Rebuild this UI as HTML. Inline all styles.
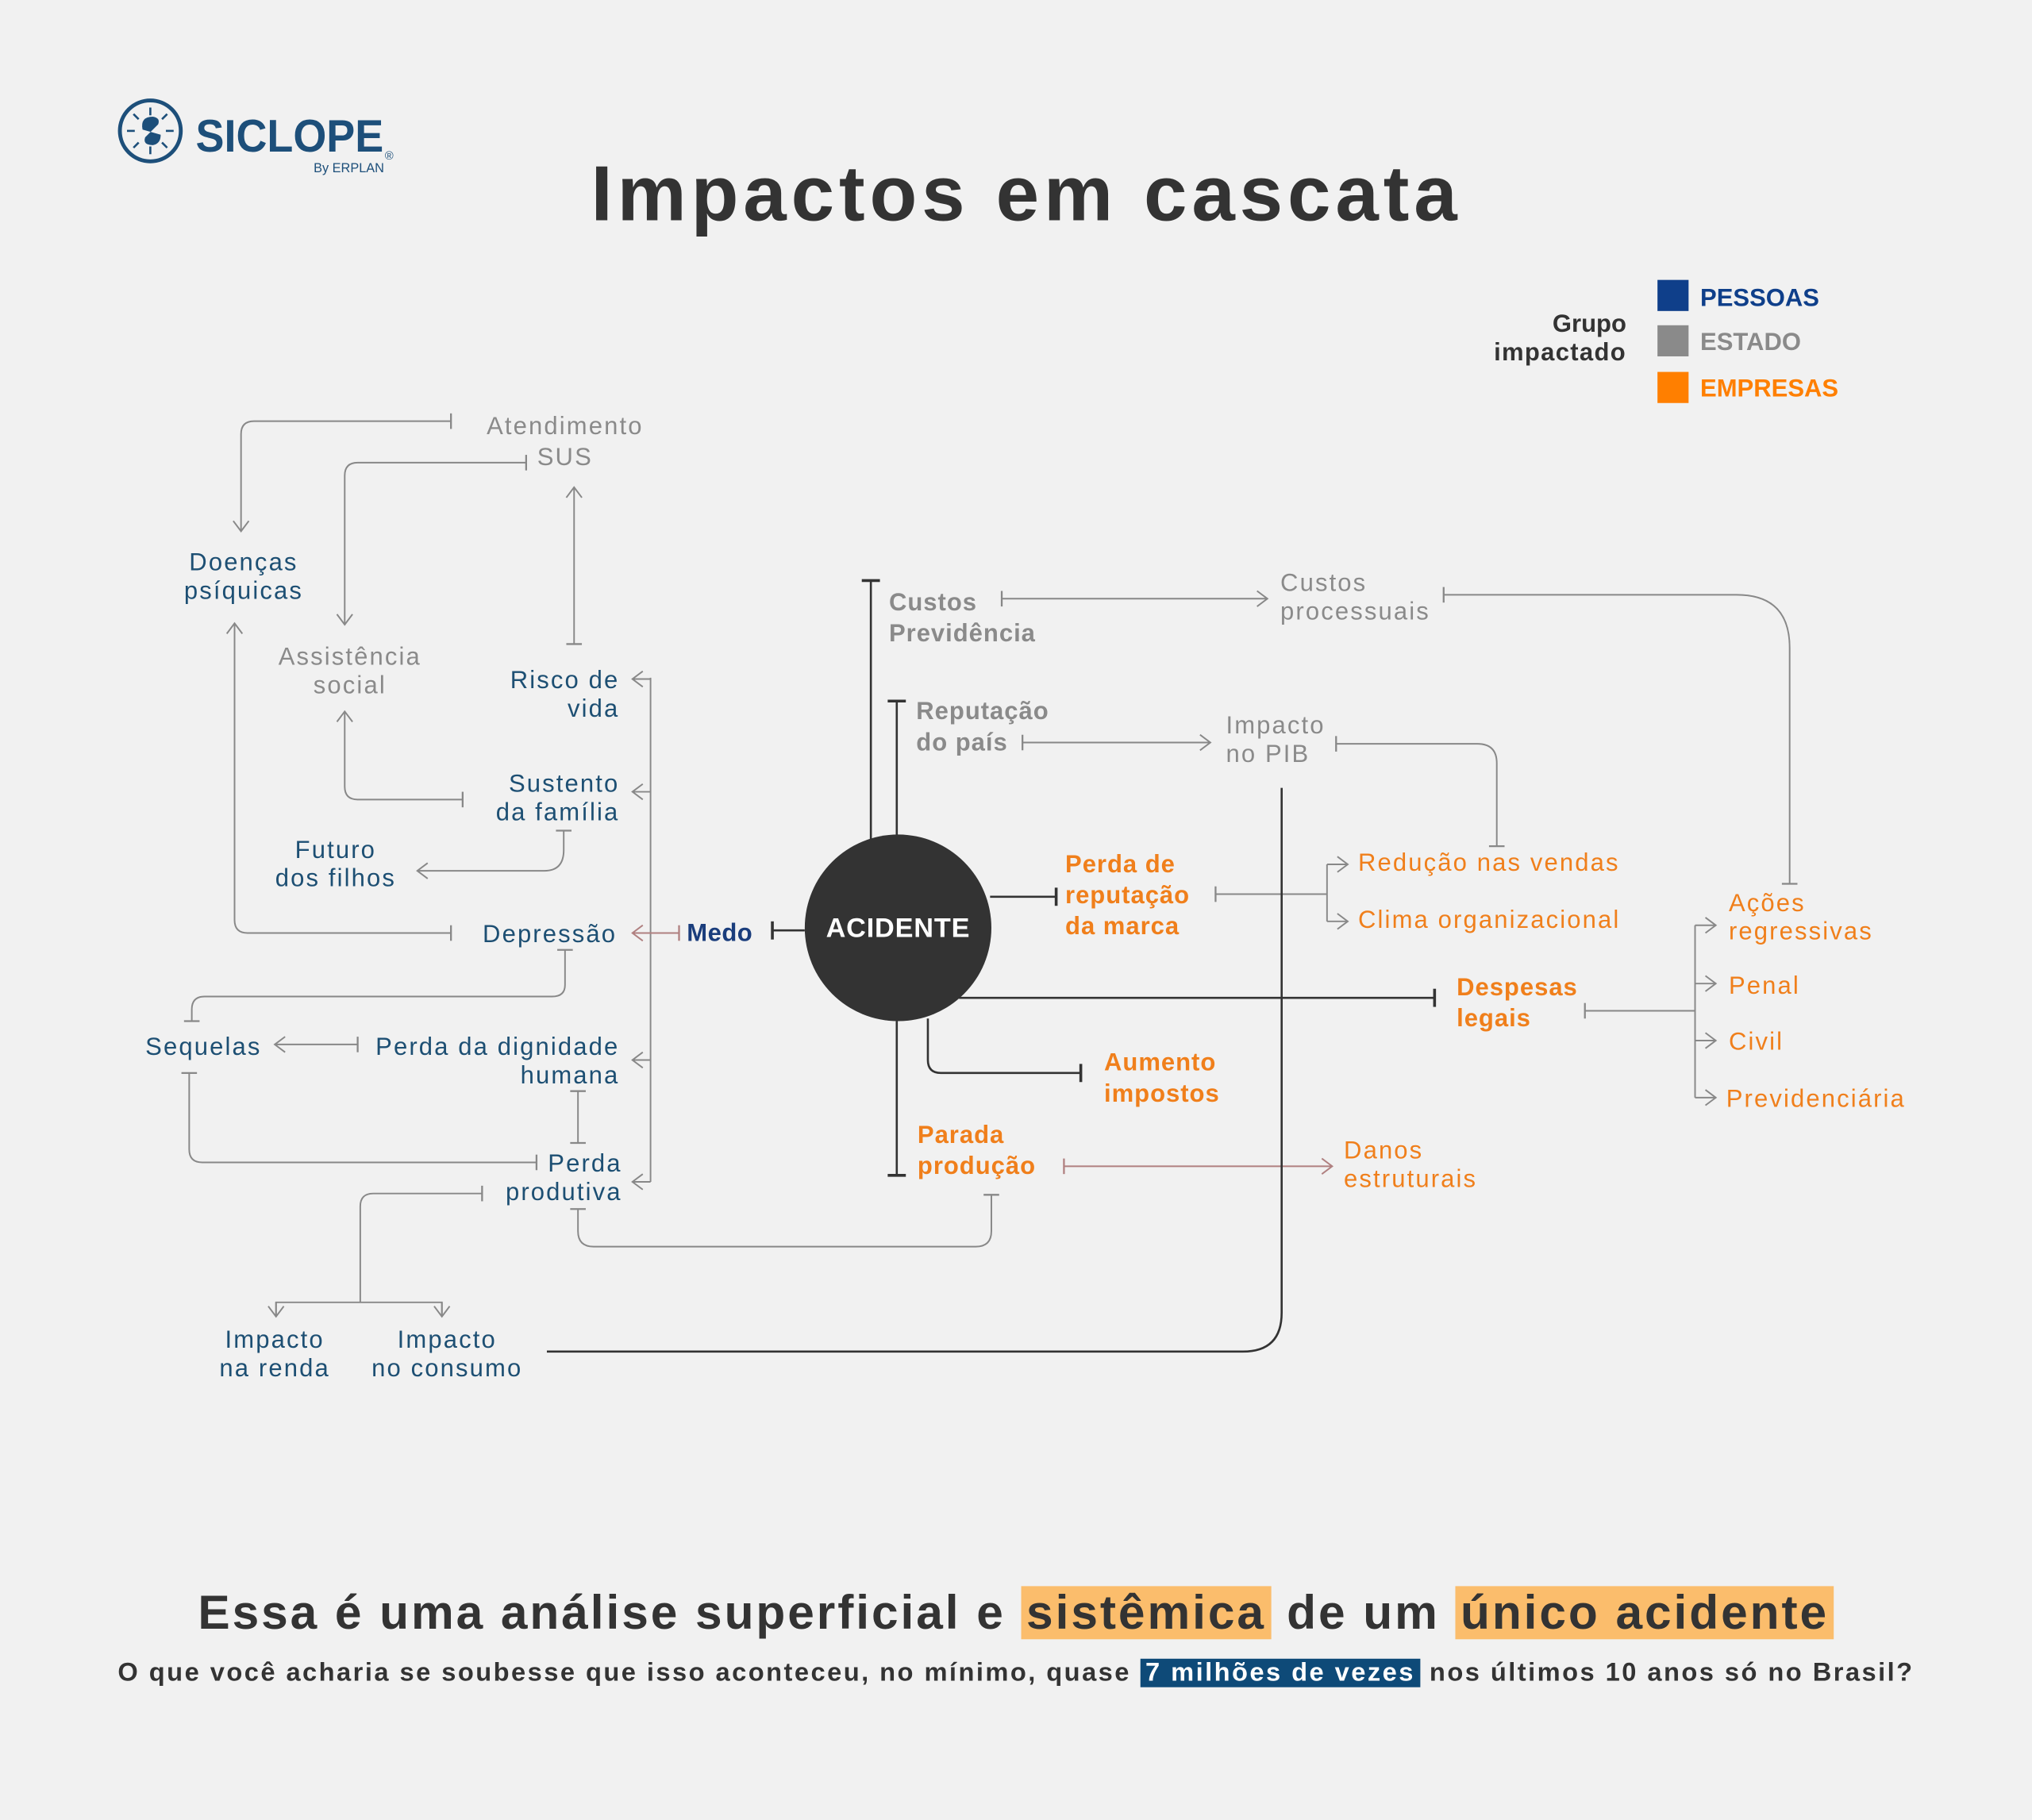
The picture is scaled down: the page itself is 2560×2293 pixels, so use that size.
<!DOCTYPE html>
<html><head><meta charset="utf-8"><style>
body{margin:0;background:#f1f1f1;}
#w{width:2560px;height:2293px;overflow:hidden;position:relative;background:#f1f1f1;}
#s{position:absolute;left:0;top:0;width:1568px;height:1404px;transform:scale(1.63265);transform-origin:0 0;font-family:"Liberation Sans",sans-serif;}
.b1{position:absolute;left:0;width:1568px;text-align:center;font-weight:bold;color:#333;white-space:nowrap;}
.hl{background:#fbbd6c;padding:0 4px;}
.hb{background:#0e4a78;color:#fff;padding:0 4px;}
</style></head><body><div id="w"><div id="s">
<svg width="1568" height="1404" viewBox="0 0 1568 1404" xmlns="http://www.w3.org/2000/svg" font-family="Liberation Sans, sans-serif">
<defs>
<marker id="ag" markerUnits="userSpaceOnUse" markerWidth="20" markerHeight="20" refX="10" refY="10" orient="auto" viewBox="0 0 20 20"><path d="M2,4 L10,10 L2,16" fill="none" stroke="#888" stroke-width="1.2"/></marker>
<marker id="tg" markerUnits="userSpaceOnUse" markerWidth="20" markerHeight="20" refX="10" refY="10" orient="auto" viewBox="0 0 20 20"><path d="M10,4 L10,16" stroke="#888" stroke-width="1.4"/></marker>
<marker id="ar" markerUnits="userSpaceOnUse" markerWidth="20" markerHeight="20" refX="10" refY="10" orient="auto" viewBox="0 0 20 20"><path d="M2,4 L10,10 L2,16" fill="none" stroke="#b08080" stroke-width="1.2"/></marker>
<marker id="tr" markerUnits="userSpaceOnUse" markerWidth="20" markerHeight="20" refX="10" refY="10" orient="auto" viewBox="0 0 20 20"><path d="M10,4 L10,16" stroke="#b08080" stroke-width="1.4"/></marker>
<marker id="td" markerUnits="userSpaceOnUse" markerWidth="20" markerHeight="20" refX="10" refY="10" orient="auto" viewBox="0 0 20 20"><path d="M10,3 L10,17" stroke="#333" stroke-width="2.2"/></marker>
</defs>
<!-- logo -->
<circle cx="116" cy="101" r="23.5" fill="none" stroke="#1d4f7a" stroke-width="3"/>
<g stroke="#1d4f7a" stroke-width="1.6">
<line x1="116" y1="83" x2="116" y2="89"/><line x1="116" y1="113" x2="116" y2="119"/>
<line x1="98" y1="101" x2="104" y2="101"/><line x1="128" y1="101" x2="134" y2="101"/>
<line x1="103" y1="88" x2="107" y2="92"/><line x1="125" y1="110" x2="129" y2="114"/>
<line x1="129" y1="88" x2="125" y2="92"/><line x1="107" y1="110" x2="103" y2="114"/></g>
<path d="M110,100 Q108,90 118,90 Q124,91 122,96 L112,106 Q110,112 118,112 Q124,111 124,104" fill="#1d4f7a"/>
<text x="151" y="117" font-size="35" fill="#1d4f7a" font-weight="bold" textLength="145" lengthAdjust="spacingAndGlyphs">SICLOPE</text>
<text x="242" y="133" font-size="10" fill="#1d4f7a">By ERPLAN</text>
<text x="297" y="123" font-size="9" fill="#1d4f7a">®</text>
<text x="792" y="170" font-size="60" font-weight="bold" fill="#333" text-anchor="middle" letter-spacing="3.6">Impactos em cascata</text>
<!-- legend -->
<g font-weight="bold" font-size="19">
<text x="1255" y="256" text-anchor="end" fill="#333">Grupo</text>
<text x="1255" y="278" text-anchor="end" fill="#333" letter-spacing="0.8">impactado</text>
<rect x="1279" y="216" width="24" height="24" fill="#0f3f8a"/>
<rect x="1279" y="251" width="24" height="24" fill="#8a8a8a"/>
<rect x="1279" y="287" width="24" height="24" fill="#ff7f00"/>
<text x="1312" y="236" fill="#0f3f8a">PESSOAS</text>
<text x="1312" y="270" fill="#8a8a8a">ESTADO</text>
<text x="1312" y="306" fill="#ff7f00">EMPRESAS</text>
</g>
<!-- gray connectors -->
<g fill="none" stroke="#888" stroke-width="1.2">
<path d="M348,325 L196,325 Q186,325 186,335 L186,410" marker-start="url(#tg)" marker-end="url(#ag)"/>
<path d="M406,357 L276,357 Q266,357 266,367 L266,482" marker-start="url(#tg)" marker-end="url(#ag)"/>
<path d="M443,497 L443,376" marker-start="url(#tg)" marker-end="url(#ag)"/>
<path d="M357,617 L276,617 Q266,617 266,607 L266,549" marker-start="url(#tg)" marker-end="url(#ag)"/>
<path d="M435,641 L435,656 Q435,672 420,672 L322,672" marker-start="url(#tg)" marker-end="url(#ag)"/>
<path d="M348,720 L191,720 Q181,720 181,710 L181,481" marker-start="url(#tg)" marker-end="url(#ag)"/>
<path d="M436,733 L436,760 Q436,769 426,769 L158,769 Q148,769 148,779 L148,788" marker-start="url(#tg)" marker-end="url(#tg)"/>
<path d="M276,806 L212,806" marker-start="url(#tg)" marker-end="url(#ag)"/>
<path d="M446,842 L446,882" marker-start="url(#tg)" marker-end="url(#tg)"/>
<path d="M146,828 L146,887 Q146,897 156,897 L414,897" marker-start="url(#tg)" marker-end="url(#tg)"/>
<path d="M372,921 L288,921 Q278,921 278,931 L278,1005"  marker-start="url(#tg)"/>
<path d="M213,1015 L213,1005 L341,1005 L341,1015" />
<path d="M213,1005 L213,1016" marker-end="url(#ag)"/><path d="M341,1005 L341,1016" marker-end="url(#ag)"/>
<path d="M446,933 L446,950 Q446,962 458,962 L753,962 Q765,962 765,950 L765,922" marker-start="url(#tg)" marker-end="url(#tg)"/>
<path d="M502,523 L502,912"/>
<path d="M502,524 L488,524" marker-end="url(#ag)"/>
<path d="M502,611 L488,611" marker-end="url(#ag)"/>
<path d="M502,818 L488,818" marker-end="url(#ag)"/>
<path d="M502,912 L488,912" marker-end="url(#ag)"/>
<path d="M773,462 L978,462" marker-start="url(#tg)" marker-end="url(#ag)"/>
<path d="M1114,459 L1340,459 Q1381,459 1381,500 L1381,682" marker-start="url(#tg)" marker-end="url(#tg)"/>
<path d="M789,573 L934,573" marker-start="url(#tg)" marker-end="url(#ag)"/>
<path d="M1031,574 L1140,574 Q1155,574 1155,589 L1155,653" marker-start="url(#tg)" marker-end="url(#tg)"/>
<path d="M938,690 L1024,690 M1024,667 L1024,711"  marker-start="url(#tg)"/>
<path d="M1024,667 L1040,667" marker-end="url(#ag)"/>
<path d="M1024,711 L1040,711" marker-end="url(#ag)"/>
<path d="M1223,780 L1308,780" marker-start="url(#tg)"/>
<path d="M1308,714 L1308,847"/>
<path d="M1308,714 L1324,714" marker-end="url(#ag)"/>
<path d="M1308,759 L1324,759" marker-end="url(#ag)"/>
<path d="M1308,803 L1324,803" marker-end="url(#ag)"/>
<path d="M1308,847 L1324,847" marker-end="url(#ag)"/>
</g>
<g fill="none" stroke="#b08080" stroke-width="1.2">
<path d="M524,720 L488,720" marker-start="url(#tr)" marker-end="url(#ar)"/>
<path d="M821,900 L1028,900" marker-start="url(#tr)" marker-end="url(#ar)"/>
</g>
<!-- dark connectors -->
<g fill="none" stroke="#333" stroke-width="1.6">
<path d="M596,718 L621,718" marker-start="url(#td)"/>
<path d="M672,448 L672,648" marker-start="url(#td)"/>
<path d="M692,541 L692,646" marker-start="url(#td)"/>
<path d="M764,692 L815,692" marker-end="url(#td)"/>
<path d="M740,770 L1107,770" marker-end="url(#td)"/>
<path d="M716,786 L716,818 Q716,828 726,828 L834,828" marker-end="url(#td)"/>
<path d="M692,788 L692,907" marker-end="url(#td)"/>
<path d="M422,1043 L959,1043 Q989,1043 989,1013 L989,608"/>
</g>
<circle cx="693" cy="716" r="72" fill="#333"/>
<text x="693" y="723" font-size="21" font-weight="bold" fill="#fff" text-anchor="middle" letter-spacing="0.5">ACIDENTE</text>
<!-- labels -->
<g font-size="19" letter-spacing="1.3">
<g fill="#8a8a8a" text-anchor="middle"><text x="436" y="335">Atendimento</text><text x="436" y="359">SUS</text>
<text x="270" y="513">Assistência</text><text x="270" y="535">social</text></g>
<g fill="#1d4f73" text-anchor="middle"><text x="188" y="440">Doenças</text><text x="188" y="462">psíquicas</text>
<text x="259" y="662">Futuro</text><text x="259" y="684">dos filhos</text>
<text x="157" y="814">Sequelas</text>
<text x="212" y="1040">Impacto</text><text x="212" y="1062">na renda</text>
<text x="345" y="1040">Impacto</text><text x="345" y="1062">no consumo</text></g>
<g fill="#1d4f73" text-anchor="end"><text x="478" y="531">Risco de</text><text x="478" y="553">vida</text>
<text x="478" y="611">Sustento</text><text x="478" y="633">da família</text>
<text x="476" y="727">Depressão</text>
<text x="478" y="814">Perda da dignidade</text><text x="478" y="836">humana</text>
<text x="480" y="904">Perda</text><text x="480" y="926">produtiva</text></g>
<text x="530" y="726" fill="#1a3d7c" font-weight="bold" letter-spacing="0.3">Medo</text>
<g fill="#8a8a8a" font-weight="bold" letter-spacing="0.6"><text x="686" y="471">Custos</text><text x="686" y="495">Previdência</text>
<text x="707" y="555">Reputação</text><text x="707" y="579">do país</text></g>
<g fill="#8a8a8a"><text x="988" y="456">Custos</text><text x="988" y="478">processuais</text>
<text x="946" y="566">Impacto</text><text x="946" y="588">no PIB</text></g>
<g fill="#f07f1b" font-weight="bold" letter-spacing="0.6"><text x="822" y="673">Perda de</text><text x="822" y="697">reputação</text><text x="822" y="721">da marca</text>
<text x="1124" y="768">Despesas</text><text x="1124" y="792">legais</text>
<text x="852" y="826">Aumento</text><text x="852" y="850">impostos</text>
<text x="708" y="882">Parada</text><text x="708" y="906">produção</text></g>
<g fill="#f07f1b"><text x="1048" y="672">Redução nas vendas</text><text x="1048" y="716">Clima organizacional</text>
<text x="1334" y="703">Ações</text><text x="1334" y="725">regressivas</text>
<text x="1334" y="767">Penal</text><text x="1334" y="810">Civil</text><text x="1332" y="854">Previdenciária</text>
<text x="1037" y="894">Danos</text><text x="1037" y="916">estruturais</text></g>
</g>
</svg>
<div class="b1" style="top:1222px;font-size:37px;line-height:46px;letter-spacing:1.8px;">Essa é uma análise superficial e <span class="hl">sistêmica</span> de um <span class="hl">único acidente</span></div>
<div class="b1" style="top:1278px;font-size:20px;line-height:26px;letter-spacing:1.5px;">O que você acharia se soubesse que isso aconteceu, no mínimo, quase <span class="hb">7 milhões de vezes</span> nos últimos 10 anos só no Brasil?</div>
</div></div></body></html>
